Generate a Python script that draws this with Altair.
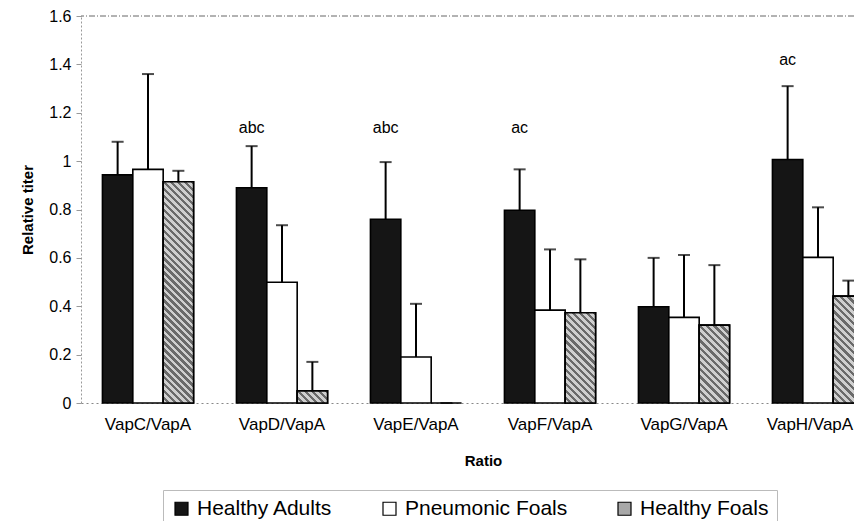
import altair as alt
import pandas as pd

categories = ["VapC/VapA", "VapD/VapA", "VapE/VapA", "VapF/VapA", "VapG/VapA", "VapH/VapA"]
groups = ["Healthy Adults", "Pneumonic Foals", "Healthy Foals"]

healthy_adults = [0.943, 0.89, 0.76, 0.797, 0.398, 1.007]
healthy_adults_err = [1.08, 1.062, 0.996, 0.966, 0.60, 1.31]
pneumonic_foals = [0.966, 0.499, 0.19, 0.384, 0.354, 0.602]
pneumonic_foals_err = [1.36, 0.735, 0.41, 0.635, 0.612, 0.809]
healthy_foals = [0.915, 0.05, 0.0, 0.373, 0.322, 0.442]
healthy_foals_err = [0.96, 0.17, 0.0, 0.594, 0.57, 0.506]

sig_ratio = ["VapD/VapA", "VapE/VapA", "VapF/VapA", "VapH/VapA"]
sig_text = ["abc", "abc", "ac", "ac"]
sig_height = [1.135, 1.135, 1.135, 1.42]

y_ticks = [0, 0.2, 0.4, 0.6, 0.8, 1.0, 1.2, 1.4, 1.6]

# layout (pixels)
PLOT_W = 773          # visible plot width (page is cut at the right like the original)
FULL_W = 804          # width the six groups would need
PLOT_H = 387
Y_MAX = 1.6
BAR_W = FULL_W / 6 * (1 - 0.32) / 3

rows = []
for i, c in enumerate(categories):
    for g, vals, errs in zip(groups,
                             [healthy_adults, pneumonic_foals, healthy_foals],
                             [healthy_adults_err, pneumonic_foals_err, healthy_foals_err]):
        rows.append({"ratio": c, "group": g, "value": vals[i], "err": errs[i]})
df = pd.DataFrame(rows)

sig_df = pd.DataFrame({"ratio": sig_ratio, "label": sig_text, "h": sig_height,
                       "group": ["Healthy Adults"] * len(sig_ratio)})
top_df = pd.DataFrame({"y": [Y_MAX]})

FONT = "Liberation Sans"

x_enc = alt.X("ratio:N", sort=categories,
              scale=alt.Scale(domain=categories, range=[0, FULL_W],
                              paddingInner=0.32, paddingOuter=0.16),
              axis=alt.Axis(title="Ratio", labelAngle=0, ticks=False, labelFontSize=17,
                            labelPadding=13, titleFontSize=15, titleFontWeight="bold",
                            titlePadding=21, domainDash=[2, 3], domainColor="#888",
                            labelColor="#000", titleColor="#000", titleX=402,
                            labelOffset=alt.expr(
                                f"datum.value == '{categories[-1]}' ? -8 : 0")))
xo_enc = alt.XOffset("group:N", sort=groups,
                     scale=alt.Scale(domain=groups, paddingInner=0, paddingOuter=0))
y_scale = alt.Scale(domain=[0, Y_MAX], nice=False)

bars = alt.Chart(df).mark_bar(stroke="black", strokeWidth=1.6).encode(
    x=x_enc,
    xOffset=xo_enc,
    y=alt.Y("value:Q", scale=y_scale,
            axis=alt.Axis(values=y_ticks, format="~g", title="Relative titer",
                          titleFontSize=15, titleFontWeight="bold", titlePadding=13,
                          labelFontSize=16, labelPadding=5, tickSize=5, tickColor="#999",
                          domainDash=[2, 2], domainColor="#999", grid=False,
                          labelColor="#000", titleColor="#000")),
    color=alt.Color("group:N", sort=groups,
                    scale=alt.Scale(domain=groups, range=["#151515", "#ffffff", "#a8a8a8"]),
                    legend=alt.Legend(title=None, orient="none", direction="horizontal",
                                      legendX=82, legendY=474, symbolType="square",
                                      symbolSize=169, symbolStrokeColor="black",
                                      symbolStrokeWidth=1.2, labelFontSize=21,
                                      labelLimit=400, labelOffset=5, columnPadding=46,
                                      padding=8, strokeColor="#bbb", labelColor="#000")),
)


def hatch(value):
    """Diagonal hatch gradient for one bar of given value."""
    h = max(value / Y_MAX * PLOT_H, 1.0)
    w = BAR_W
    r = h / w
    s = (1 + r) / (1 + r * r)
    span = (w + h) / 2 ** 0.5
    period = 5.0
    n = max(int(round(span / period)), 1)
    light, dark = "#cfcfcf", "#6a6a6a"
    stops = []
    for k in range(n):
        a = k / n
        b = (k + 0.55) / n
        c = (k + 1) / n
        stops += [alt.GradientStop(offset=a, color=light),
                  alt.GradientStop(offset=b, color=light),
                  alt.GradientStop(offset=b, color=dark),
                  alt.GradientStop(offset=c, color=dark)]
    return alt.LinearGradient(gradient="linear", stops=stops,
                              x1=0, y1=1, x2=s, y2=1 - s * r)


hatch_layers = []
for c, v in zip(categories, healthy_foals):
    if v <= 0:
        continue
    hatch_layers.append(
        alt.Chart(df).transform_filter(
            (alt.datum.ratio == c) & (alt.datum.group == "Healthy Foals")
        ).mark_bar(fill=hatch(v), stroke="black", strokeWidth=1.6).encode(
            x=x_enc, xOffset=xo_enc, y=alt.Y("value:Q", scale=y_scale))
    )

whisk = alt.Chart(df).mark_rule(color="black", strokeWidth=2).encode(
    x=x_enc, xOffset=xo_enc, y=alt.Y("value:Q", scale=y_scale), y2="err:Q")

caps = alt.Chart(df).mark_tick(color="black", size=12, thickness=2).encode(
    x=x_enc, xOffset=xo_enc, y=alt.Y("err:Q", scale=y_scale))

labels = alt.Chart(sig_df).mark_text(fontSize=16, color="black", baseline="middle").encode(
    x=x_enc, xOffset=xo_enc, y=alt.Y("h:Q", scale=y_scale), text="label:N")

top = alt.Chart(top_df).mark_rule(color="#666", strokeWidth=1, strokeDash=[6, 2, 1, 2]).encode(
    y=alt.Y("y:Q", scale=y_scale))

chart = alt.layer(top, whisk, caps, bars, *hatch_layers, labels).properties(
    width=PLOT_W, height=PLOT_H,
    autosize=alt.AutoSizeParams(type="none"),
    padding={"left": 73, "top": 8, "right": 0, "bottom": 118},
).configure(font=FONT).configure_view(stroke=None)

chart.save("out.html", embed_options={"renderer": "svg", "actions": False})
